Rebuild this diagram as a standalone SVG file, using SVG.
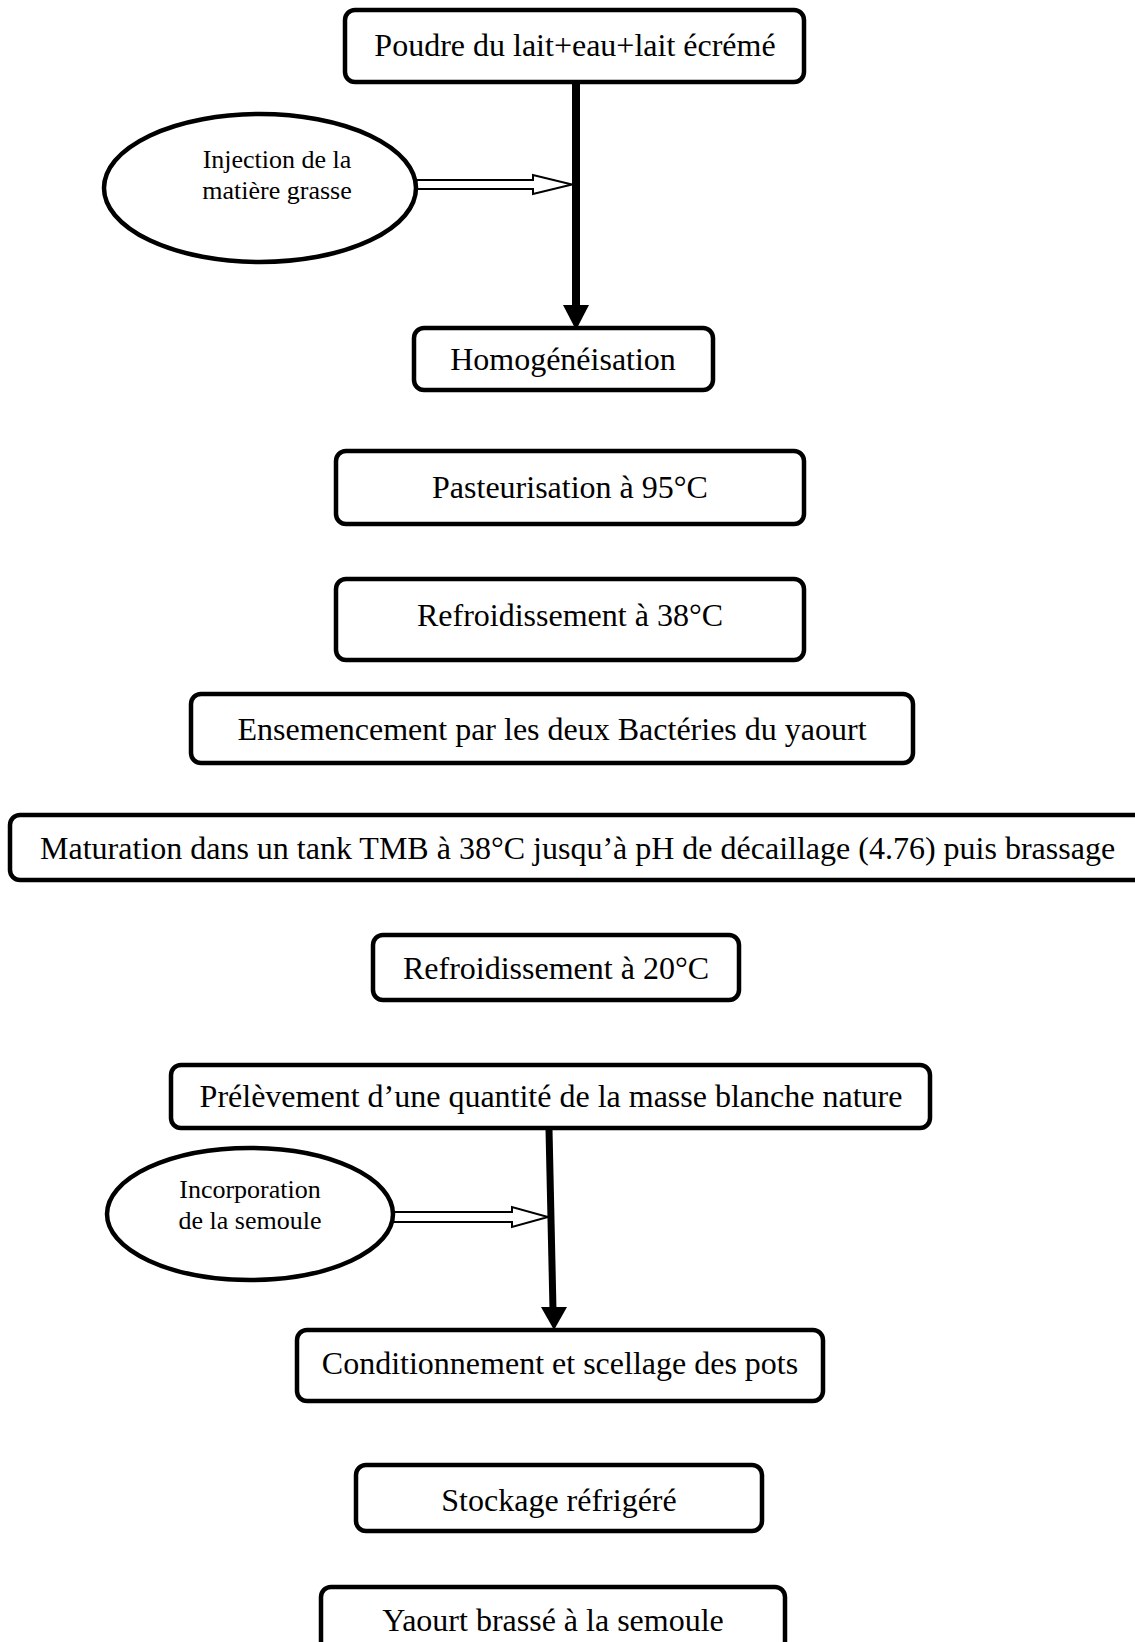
<svg xmlns="http://www.w3.org/2000/svg" width="1135" height="1642" viewBox="0 0 1135 1642">
<style>
.box{fill:#fff;stroke:#000;stroke-width:4.5}
.ell{fill:#fff;stroke:#000;stroke-width:4.5}
.t{font-family:"Liberation Serif","Times New Roman",serif;font-size:32px;fill:#000;text-anchor:middle}
.e{font-family:"Liberation Serif","Times New Roman",serif;font-size:26px;fill:#000;text-anchor:middle}
.hollow{fill:#fff;stroke:#000;stroke-width:2;stroke-linejoin:miter}
.thick{stroke:#000;fill:none}
</style>
<rect width="1135" height="1642" fill="#fff"/>
<g id="connectors">
  <line class="thick" x1="576" y1="82" x2="576" y2="308" stroke-width="8"/>
  <polygon points="563,305 589,305 576,330" fill="#000"/>
  <polygon class="hollow" points="410,180 533,180 533,175 572,184.5 533,194 533,189 410,189"/>
  <line class="thick" x1="549" y1="1129" x2="553" y2="1310" stroke-width="7"/>
  <polygon points="541,1307 567,1307 554,1330" fill="#000"/>
  <polygon class="hollow" points="390,1212 512,1212 512,1207 548,1217 512,1227 512,1222 390,1222"/>
</g>
<g id="n1"><rect class="box" x="345" y="10" width="459" height="72" rx="10"/><text class="t" x="575" y="56">Poudre du lait+eau+lait écrémé</text></g>
<g id="n_injection"><ellipse class="ell" cx="260" cy="188" rx="156" ry="74"/><text class="e" x="277" y="168">Injection de la</text><text class="e" x="277" y="199">matière grasse</text></g>
<g id="n2"><rect class="box" x="414" y="328" width="299" height="62" rx="10"/><text class="t" x="563" y="370">Homogénéisation</text></g>
<g id="n3"><rect class="box" x="336" y="451" width="468" height="73" rx="10"/><text class="t" x="570" y="498">Pasteurisation à 95°C</text></g>
<g id="n4"><rect class="box" x="336" y="579" width="468" height="81" rx="10"/><text class="t" x="570" y="626">Refroidissement à 38°C</text></g>
<g id="n5"><rect class="box" x="191" y="694" width="722" height="69" rx="10"/><text class="t" x="552" y="740">Ensemencement par les deux Bactéries du yaourt</text></g>
<g id="n6"><rect class="box" x="10" y="815" width="1140" height="65" rx="10"/><text class="t" x="40" y="859" style="text-anchor:start">Maturation dans un tank TMB à 38°C jusqu’à pH de décaillage (4.76) puis brassage</text></g>
<g id="n7"><rect class="box" x="373" y="935" width="366" height="65" rx="10"/><text class="t" x="556" y="979">Refroidissement à 20°C</text></g>
<g id="n8"><rect class="box" x="171" y="1065" width="759" height="63" rx="10"/><text class="t" x="551" y="1107">Prélèvement d’une quantité de la masse blanche nature</text></g>
<g id="n_semoule"><ellipse class="ell" cx="250" cy="1214" rx="143" ry="66"/><text class="e" x="250" y="1198">Incorporation</text><text class="e" x="250" y="1229">de la semoule</text></g>
<g id="n9"><rect class="box" x="297" y="1330" width="526" height="71" rx="10"/><text class="t" x="560" y="1374">Conditionnement et scellage des pots</text></g>
<g id="n10"><rect class="box" x="356" y="1465" width="406" height="66" rx="10"/><text class="t" x="559" y="1511">Stockage réfrigéré</text></g>
<g id="n11"><rect class="box" x="321" y="1587" width="464" height="80" rx="10"/><text class="t" x="553" y="1631">Yaourt brassé à la semoule</text></g>
</svg>
